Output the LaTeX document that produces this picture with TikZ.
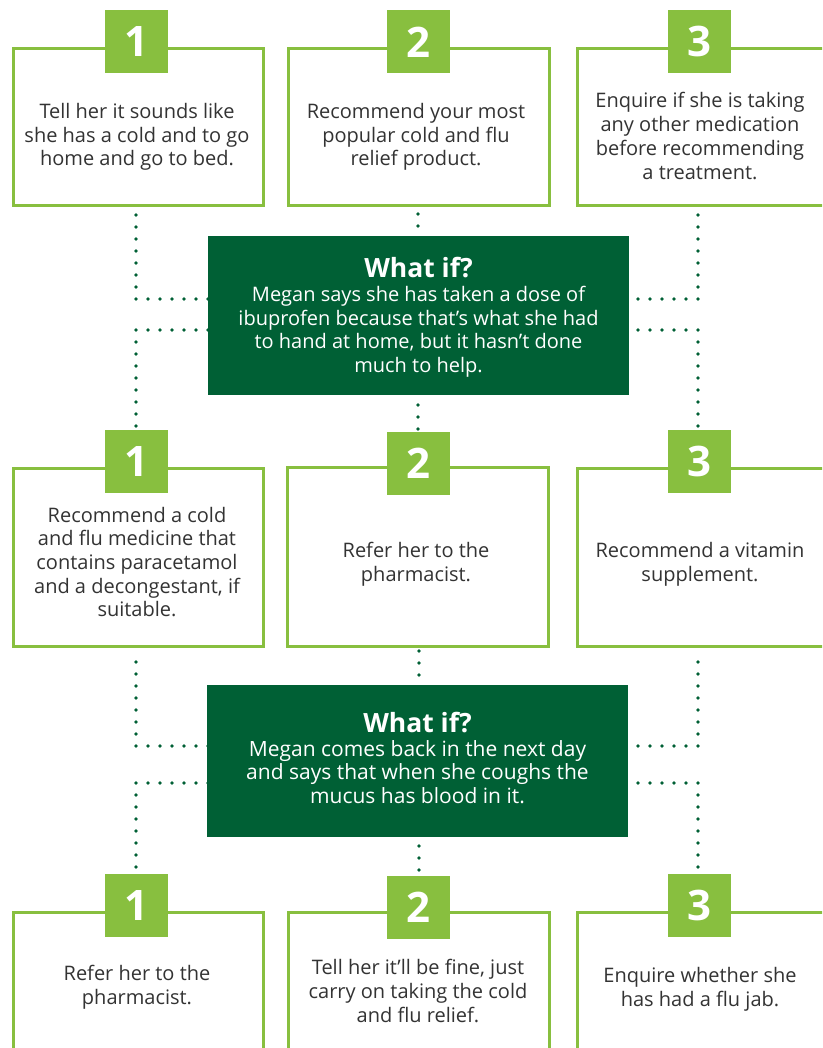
\documentclass[tikz,border=0pt]{standalone}
\usepackage{fontspec}
\setmainfont{Open Sans}
\definecolor{lgreen}{HTML}{88BF3F}
\definecolor{dgreen}{HTML}{006035}
\definecolor{txtgray}{HTML}{333333}
\tikzset{
  optbox/.style={draw=lgreen, line width=3pt, fill=white, rectangle, inner sep=0pt, anchor=north west},
  badge/.style={fill=lgreen, minimum size=63pt, inner sep=0pt, text=white, font=\fontsize{42}{42}\selectfont\bfseries},
  boxtext/.style={text=txtgray, align=center, inner sep=0pt, font=\fontsize{20}{23.7}\selectfont},
  whatif/.style={fill=dgreen, inner sep=0pt},
  whattext/.style={text=white, align=center, inner sep=0pt},
  dotline/.style={draw=dgreen, line width=3.6pt, line cap=round, dash pattern=on 0pt off 12pt},
}
\newcommand{\whathead}{{\fontsize{26.5}{26.5}\selectfont\bfseries What if?}}
\begin{document}
\begin{tikzpicture}[x=1pt,y=-1pt]
\useasboundingbox (0,0) rectangle (822,1048);
\clip (0,0) rectangle (822,1048);

% ---------- row 1 ----------
\node[optbox, minimum width=250pt, minimum height=157pt] (b11) at (12,47) {};
\node[optbox, minimum width=261pt, minimum height=157pt] (b12) at (287,47) {};
\node[optbox, minimum width=250pt, minimum height=157pt] (b13) at (576,47) {};
\node[badge] (n11) at (136.5,42) {1};
\node[badge] (n12) at (418,42) {2};
\node[badge] (n13) at (699.5,42) {3};
\node[boxtext] (t11) at (137,137) {Tell her it sounds like\\she has a cold and to go\\home and go to bed.};
\node[boxtext] (t12) at (416,137) {Recommend your most\\popular cold and flu\\relief product.};
\node[boxtext] (t13) at (700,136) {Enquire if she is taking\\any other medication\\before recommending\\a treatment.};

% ---------- what if 1 ----------
\node[whatif, minimum width=421pt, minimum height=159pt] (w1) at (418.5,315.5) {};
\node[whattext, font=\fontsize{20}{23.7}\selectfont] (w1t) at (418.5,317.5)
  {\whathead\\[0pt]Megan says she has taken a dose of\\ibuprofen because that’s what she had\\to hand at home, but it hasn’t done\\much to help.};

% ---------- row 2 ----------
\node[optbox, minimum width=250pt, minimum height=178pt] (b21) at (12,467) {};
\node[optbox, minimum width=261pt, minimum height=179pt] (b22) at (286,466) {};
\node[optbox, minimum width=250pt, minimum height=178pt] (b23) at (576,467) {};
\node[badge] (n21) at (136.5,461.5) {1};
\node[badge] (n22) at (418.5,463.5) {2};
\node[badge] (n23) at (699.5,461.5) {3};
\node[boxtext] (t21) at (137,562) {Recommend a cold\\and flu medicine that\\contains paracetamol\\and a decongestant, if\\suitable.};
\node[boxtext] (t22) at (416,564) {Refer her to the\\pharmacist.};
\node[boxtext] (t23) at (700,564) {Recommend a vitamin\\supplement.};

% ---------- what if 2 ----------
\node[whatif, minimum width=421pt, minimum height=152pt] (w2) at (417.5,761) {};
\node[whattext, font=\fontsize{21}{23.9}\selectfont] (w2t) at (417.5,758)
  {\whathead\\[0pt]Megan comes back in the next day\\and says that when she coughs the\\mucus has blood in it.};

% ---------- row 3 ----------
\node[optbox, minimum width=250pt, minimum height=200pt] (b31) at (12,911) {};
\node[optbox, minimum width=261pt, minimum height=200pt] (b32) at (287,911) {};
\node[optbox, minimum width=250pt, minimum height=200pt] (b33) at (576,911) {};
\node[badge] (n31) at (136.5,905.5) {1};
\node[badge] (n32) at (418.5,907.5) {2};
\node[badge] (n33) at (699.5,905.5) {3};
\node[boxtext] (t31) at (137,987) {Refer her to the\\pharmacist.};
\node[boxtext] (t32) at (418,991) {Tell her it’ll be fine, just\\carry on taking the cold\\and flu relief.};
\node[boxtext] (t33) at (700,989) {Enquire whether she\\has had a flu jab.};

% ---------- connector end points ----------
\coordinate (a1) at (136,215);   \coordinate (a2) at (208,299);
\coordinate (a3) at (208,330);   \coordinate (a4) at (136,426);
\coordinate (a5) at (698,215);   \coordinate (a6) at (638,299);
\coordinate (a7) at (638,330);   \coordinate (a8) at (698,426);
\coordinate (a9) at (418,214);   \coordinate (a10) at (418,226);
\coordinate (a11) at (418,405);  \coordinate (a12) at (418,429);

\coordinate (c1) at (136,662);   \coordinate (c2) at (208,746);
\coordinate (c3) at (208,783);   \coordinate (c4) at (136,867);
\coordinate (c5) at (698,662);   \coordinate (c6) at (638,746);
\coordinate (c7) at (638,783);   \coordinate (c8) at (698,867);
\coordinate (c9) at (419,651);   \coordinate (c10) at (419,675);
\coordinate (c11) at (419,846);  \coordinate (c12) at (419,870);

% ---------- dotted connectors ----------
\draw[dotline] (a1) |- (a2);
\draw[dotline] (a3) -| (a4);
\draw[dotline] (a5) |- (a6);
\draw[dotline] (a7) -| (a8);
\draw[dotline] (a9) -- (a10);
\draw[dotline] (a11) -- (a12);
\draw[dotline] (c1) |- (c2);
\draw[dotline] (c3) -| (c4);
\draw[dotline] (c5) |- (c6);
\draw[dotline] (c7) -| (c8);
\draw[dotline] (c9) -- (c10);
\draw[dotline] (c11) -- (c12);
\end{tikzpicture}
\end{document}
